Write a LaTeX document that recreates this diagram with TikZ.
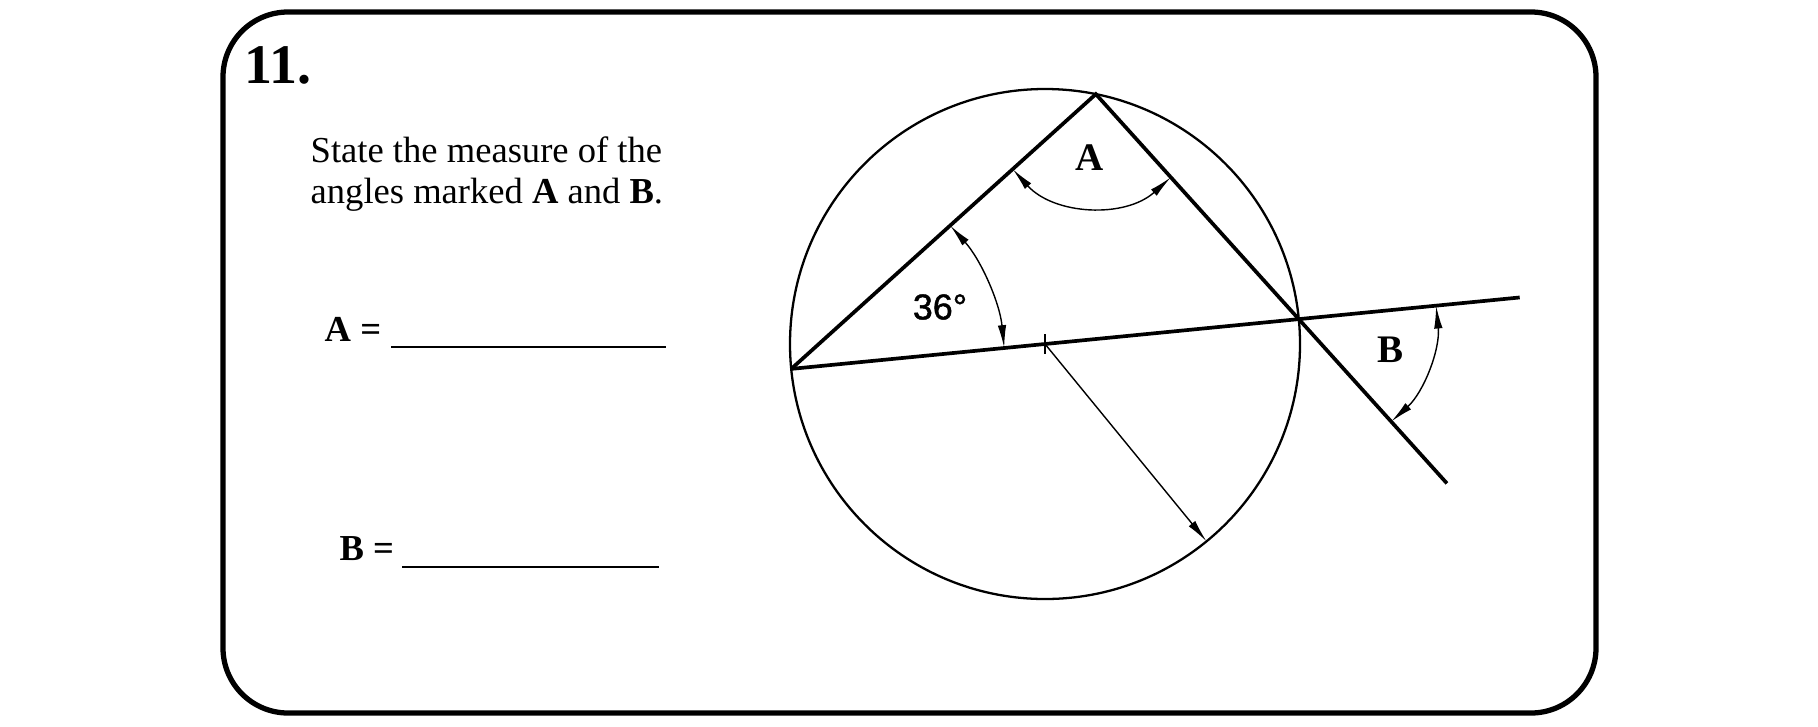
\documentclass[tikz,border=0pt]{standalone}
\usepackage{fontspec}
\setmainfont{Liberation Serif}
\newfontfamily\labelsans[FakeBold=1.2]{Liberation Sans}
\usetikzlibrary{arrows.meta, calc}

\begin{document}
\begin{tikzpicture}[x=0.01cm, y=0.01cm,
    heavy/.style={line width=1.05pt},
    anglearc/.style={line width=0.4pt, {Latex[length=6.5pt, width=2.4pt]}-{Latex[length=6.5pt, width=2.4pt]}},
    answerline/.style={line width=0.6pt},
    sheet/.style={anchor=base west, inner sep=0, font=\fontsize{10.4}{12}\selectfont},
    anglelabel/.style={inner sep=0, font=\fontsize{11.1}{13}\selectfont\bfseries}]
    \useasboundingbox (0,0) rectangle (1818,726);
    \draw [line width=1.5pt, rounded corners=6.5mm] (223,13) rectangle (1596,714);

    % circle, diameter PQ and the inscribed angle at T
    \coordinate (O) at (1045,382);
    \coordinate (P) at ($(O)+(185.6:255)$);
    \coordinate (Q) at ($(O)+(5.6:255)$);
    \coordinate (T) at ($(O)+(78.5:255)$);
    \coordinate (Dend) at ($(Q)+(5.6:222)$);
    \coordinate (Lend) at ($(T)!1.73!(Q)$);
    \coordinate (R) at ($(O)+(-50.7:255)$);
    \coordinate (tickup) at ($(O)+(0,10)$);
    \coordinate (tickdown) at ($(O)+(0,-10)$);

    \draw [line width=0.65pt] (O) circle (255);
    \draw [heavy] (P) -- (Dend);
    \draw [heavy] (P) -- (T) -- (Lend);
    \draw [line width=0.35pt] (tickup) -- (tickdown);
    \draw [line width=0.4pt, -{Latex[length=6.5pt, width=2.4pt]}] (O) -- (R);

    % angle marks
    \draw [anglearc] ($(P)+(5.6:214)$) arc [start angle=5.6, end angle=42.05, radius=214];
    \draw [anglearc] ($(T)+(222.05:112)$) arc [start angle=222.05, end angle=312.05, radius=112];
    \draw [anglearc] ($(Q)+(-47.95:138)$) arc [start angle=-47.95, end angle=5.6, radius=138];
    \node (labA) at (1089.5,568) [anglelabel] {A};
    \node (labB) at (1390,376) [anglelabel] {B};
    \node (lab36) at (940,419) [inner sep=0, font=\labelsans\fontsize{10.2}{12}\selectfont] {36°};

    % question text
    \node (num) at (244,643) [anchor=base west, inner sep=0, font=\fontsize{15.9}{19}\selectfont\bfseries] {11.};
    \node (ask1) at (310,564) [sheet] {State the measure of the};
    \node (ask2) at (310,523) [sheet] {angles marked \textbf{A} and \textbf{B}.};
    \node (ansA) at (324,385) [sheet] {\textbf{A =}};
    \node (ansB) at (339,166) [sheet] {\textbf{B =}};
    \coordinate (ansAstart) at (391,379);
    \coordinate (ansAend) at (666,379);
    \coordinate (ansBstart) at (402,159);
    \coordinate (ansBend) at (659,159);
    \draw [answerline] (ansAstart) -- (ansAend);
    \draw [answerline] (ansBstart) -- (ansBend);
\end{tikzpicture}
\end{document}
